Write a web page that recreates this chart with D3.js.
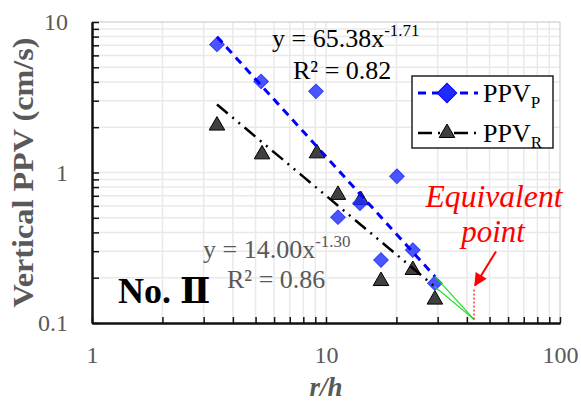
<!DOCTYPE html>
<html>
<head>
<meta charset="utf-8">
<script src="https://cdn.jsdelivr.net/npm/d3@7"></script>
<style>
  body { margin: 0; background: #fff; }
  svg text { font-family: "Liberation Serif", "Times New Roman", serif; }
</style>
</head>
<body>
<div id="chart"></div>
<script>
var rhP  = [3.42, 5.28, 9.06, 20.1, 11.25, 13.97, 17.18, 23.5, 29.2];
var ppvP = [7.10, 4.03, 3.46, 0.944, 0.505, 0.625, 0.262, 0.305, 0.184];
var rhR  = [3.42, 5.33, 9.15, 11.25, 14.1, 17.18, 23.5, 29.2];
var ppvR = [2.05, 1.32, 1.34, 0.71, 0.655, 0.19, 0.225, 0.143];

// power fits  y = a * x^b
var fitP = {a: 65.38, b: -1.71};
var fitR = {a: 14.00, b: -1.30};

var xTicks = [1, 10, 100];
var yTicks = [0.1, 1, 10];

var W = 581, H = 402;
var margin = {top: 22, right: 21, bottom: 79, left: 92};
var width = W - margin.left - margin.right;
var height = H - margin.top - margin.bottom;

var svg = d3.select("#chart").append("svg")
    .attr("width", W).attr("height", H)
  .append("g")
    .attr("transform", "translate(" + margin.left + "," + margin.top + ")");

var x = d3.scaleLog().domain([1, 100]).range([0, width]);
var y = d3.scaleLog().domain([0.1, 10]).range([height, 0]);

// minor values 1..9 in every decade
var xMinor = [], yMinor = [];
[1, 10].forEach(function(d) { for (var k = 2; k <= 9; k++) xMinor.push(d * k); });
[0.1, 1].forEach(function(d) { for (var k = 2; k <= 9; k++) yMinor.push(+(d * k).toFixed(2)); });

// grid
var grid = svg.append("g").attr("stroke", "#e9e9e9").attr("stroke-width", 1.5);
xMinor.concat([10]).forEach(function(v) {
  grid.append("line").attr("x1", x(v)).attr("x2", x(v)).attr("y1", 0).attr("y2", height);
});
yMinor.concat([1]).forEach(function(v) {
  grid.append("line").attr("x1", 0).attr("x2", width).attr("y1", y(v)).attr("y2", y(v));
});
svg.append("line").attr("x1", 0).attr("x2", width).attr("y1", 0).attr("y2", 0)
  .attr("stroke", "#d9d9d9").attr("stroke-width", 1.5);
svg.append("line").attr("x1", width).attr("x2", width).attr("y1", 0).attr("y2", height)
  .attr("stroke", "#d9d9d9").attr("stroke-width", 1.5);

// axes
svg.append("g")
  .call(d3.axisLeft(y).tickValues(yTicks).tickFormat(function(d) { return d; })
    .tickSizeInner(-7).tickSizeOuter(0).tickPadding(24));
svg.append("g")
  .call(d3.axisLeft(y).tickValues(yMinor).tickFormat("").tickSizeInner(-7).tickSizeOuter(0));
svg.append("g").attr("transform", "translate(0," + height + ")")
  .call(d3.axisBottom(x).tickValues(xTicks).tickFormat(function(d) { return d; })
    .tickSizeInner(-6).tickSizeOuter(0).tickPadding(23));
svg.append("g").attr("transform", "translate(0," + height + ")")
  .call(d3.axisBottom(x).tickValues(xMinor).tickFormat("").tickSizeInner(-6).tickSizeOuter(0));

svg.selectAll(".domain").attr("stroke", "#111").attr("stroke-width", 2);
svg.selectAll(".tick line").attr("stroke", "#111").attr("stroke-width", 1.5);
svg.selectAll(".tick text")
  .style("font-family", "Liberation Serif").style("font-size", "24px").attr("fill", "#595959");

// axis titles
svg.append("text")
  .attr("transform", "translate(-59," + (height / 2) + ") rotate(-90)")
  .attr("text-anchor", "middle")
  .attr("font-size", "30px").attr("font-weight", "bold").attr("fill", "#595959")
  .attr("textLength", 270).attr("lengthAdjust", "spacingAndGlyphs")
  .text("Vertical PPV (cm/s)");
svg.append("text")
  .attr("x", x(10)).attr("y", height + 73)
  .attr("text-anchor", "middle")
  .attr("font-size", "27px").attr("font-weight", "bold").attr("font-style", "italic").attr("fill", "#595959")
  .text("r/h");

// markers
var rPts = rhR.map(function(d, i) { return {x: d, y: ppvR[i]}; });
var pPts = rhP.map(function(d, i) { return {x: d, y: ppvP[i]}; });

svg.selectAll(".tri").data(rPts).enter().append("path")
  .attr("class", "tri")
  .attr("d", d3.symbol().type(d3.symbolTriangle).size(105))
  .attr("transform", function(d) { return "translate(" + x(d.x) + "," + y(d.y) + ")"; })
  .attr("fill", "#404040").attr("stroke", "#000").attr("stroke-width", 1);

svg.selectAll(".dia").data(pPts).enter().append("path")
  .attr("class", "dia")
  .attr("d", d3.symbol().type(d3.symbolSquare).size(105))
  .attr("transform", function(d) { return "translate(" + x(d.x) + "," + y(d.y) + ") rotate(45)"; })
  .attr("fill", "#1f2bff").attr("fill-opacity", 0.8).attr("stroke", "#2a3cff").attr("stroke-width", 1);

// trend lines
function fitLine(fit, xs) {
  var lo = d3.min(xs), hi = d3.max(xs), out = [];
  for (var i = 0; i <= 40; i++) {
    var v = lo * Math.pow(hi / lo, i / 40);
    out.push([v, fit.a * Math.pow(v, fit.b)]);
  }
  return out;
}
var line = d3.line().x(function(d) { return x(d[0]); }).y(function(d) { return y(d[1]); });

svg.append("path").datum(fitLine(fitR, rhR)).attr("d", line)
  .attr("fill", "none").attr("stroke", "#000").attr("stroke-width", 2.5)
  .attr("stroke-dasharray", "14,6,2,6,2,6");
svg.append("path").datum(fitLine(fitP, rhP)).attr("d", line)
  .attr("fill", "none").attr("stroke", "#0000ff").attr("stroke-width", 3)
  .attr("stroke-dasharray", "8,6");

// extrapolation to the equivalent point
var xEq = Math.pow(fitP.a / fitR.a, 1 / (fitR.b - fitP.b));
var yEq = fitR.a * Math.pow(xEq, fitR.b);
var xEnd = d3.max(rhP);
[fitP, fitR].forEach(function(f) {
  svg.append("line")
    .attr("x1", x(xEnd)).attr("y1", y(f.a * Math.pow(xEnd, f.b)))
    .attr("x2", x(xEq)).attr("y2", y(yEq))
    .attr("stroke", "#22dd22").attr("stroke-width", 1.2);
});
svg.append("line")
  .attr("x1", x(xEq)).attr("x2", x(xEq)).attr("y1", y(yEq)).attr("y2", y(yEq) - 32)
  .attr("stroke", "#ff0000").attr("stroke-width", 1.2).attr("stroke-dasharray", "2,2");

svg.append("defs").append("marker")
  .attr("id", "arrow").attr("viewBox", "0 0 10 10").attr("refX", 9).attr("refY", 5)
  .attr("markerWidth", 7.5).attr("markerHeight", 6.5).attr("orient", "auto")
  .append("path").attr("d", "M0,0L10,5L0,10z").attr("fill", "#ff0000");
svg.append("line")
  .attr("x1", x(xEq) + 22).attr("y1", y(yEq) - 68)
  .attr("x2", x(xEq) + 1).attr("y2", y(yEq) - 34)
  .attr("stroke", "#ff0000").attr("stroke-width", 2).attr("marker-end", "url(#arrow)");

svg.append("text")
  .attr("x", 402).attr("y", 185)
  .attr("text-anchor", "middle").attr("font-size", "31px").attr("font-style", "italic").attr("fill", "#ff0000")
  .attr("textLength", 137).attr("lengthAdjust", "spacingAndGlyphs")
  .text("Equivalent");
svg.append("text")
  .attr("x", 401).attr("y", 220)
  .attr("text-anchor", "middle").attr("font-size", "31px").attr("font-style", "italic").attr("fill", "#ff0000")
  .text("point");

// equations
var eqP = svg.append("text").attr("x", 180).attr("y", 25).attr("font-size", "26px").attr("fill", "#000");
eqP.append("tspan").text("y = 65.38x");
eqP.append("tspan").attr("dy", -11).attr("font-size", "17px").text("-1.71");
svg.append("text").attr("x", 201).attr("y", 57).attr("font-size", "26px").attr("fill", "#000").text("R² = 0.82");

var eqR = svg.append("text").attr("x", 111).attr("y", 236).attr("font-size", "26px").attr("fill", "#595959");
eqR.append("tspan").text("y = 14.00x");
eqR.append("tspan").attr("dy", -11).attr("font-size", "17px").text("-1.30");
svg.append("text").attr("x", 135).attr("y", 266).attr("font-size", "26px").attr("fill", "#595959").text("R² = 0.86");

svg.append("text").attr("x", 26).attr("y", 281)
  .attr("font-size", "36px").attr("font-weight", "bold").attr("fill", "#000")
  .style("font-family", "'Liberation Serif', 'DejaVu Serif', serif")
  .text("No. Ⅱ");

// legend
var lg = svg.append("g").attr("transform", "translate(320,54)");
lg.append("rect").attr("width", 141).attr("height", 72)
  .attr("fill", "#fff").attr("stroke", "#222").attr("stroke-width", 1.5);
var legendItems = [
  {name: "PPV", sub: "P", color: "#0000ff", dash: "8,6", sym: d3.symbolSquare, rot: 45, fill: "#1f2bff", w: 3},
  {name: "PPV", sub: "R", color: "#000", dash: "14,6,2,6,2,6", sym: d3.symbolTriangle, rot: 0, fill: "#404040", w: 2.5}
];
legendItems.forEach(function(d, i) {
  var g = lg.append("g").attr("transform", "translate(0," + (17 + i * 40) + ")");
  g.append("line").attr("x1", 6).attr("x2", 66).attr("stroke", d.color)
    .attr("stroke-width", d.w).attr("stroke-dasharray", d.dash);
  g.append("path").attr("d", d3.symbol().type(d.sym).size(i === 0 ? 190 : 105))
    .attr("transform", "translate(35,0) rotate(" + d.rot + ")")
    .attr("fill", d.fill).attr("stroke", d.color).attr("stroke-width", 1);
  var t = g.append("text").attr("x", 71).attr("y", 9).attr("font-size", "26px").attr("fill", "#000");
  t.append("tspan").text(d.name);
  t.append("tspan").attr("dy", 6).attr("font-size", "17px").text(d.sub);
});
</script>
</body>
</html>
